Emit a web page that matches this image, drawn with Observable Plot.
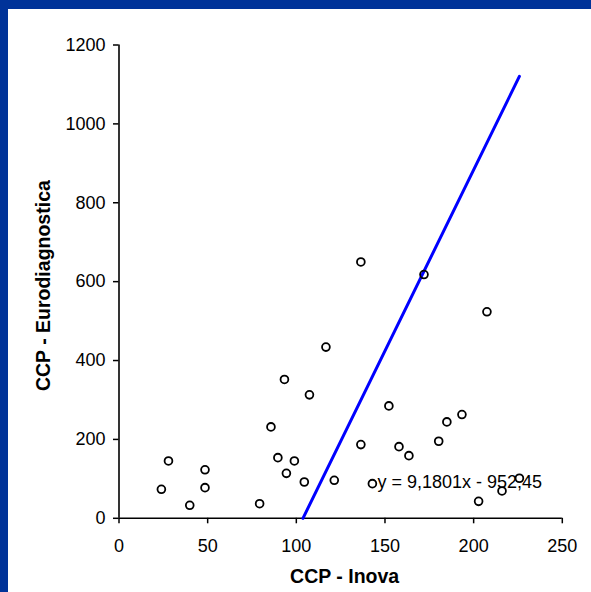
<!DOCTYPE html>
<html>
<head>
<meta charset="utf-8">
<script src="https://cdn.jsdelivr.net/npm/d3@7"></script>
<script src="https://cdn.jsdelivr.net/npm/@observablehq/plot@0.6"></script>
<style>
  html, body { margin: 0; padding: 0; background: #ffffff; }
  #wrap { position: relative; width: 591px; height: 592px; overflow: hidden; background: #ffffff; }
  #wrap svg { position: absolute; left: 0; top: 0; }
  .band-top { position: absolute; left: 0; top: 0; width: 591px; height: 9px; background: #003399; }
  .band-left { position: absolute; left: 0; top: 0; width: 8px; height: 592px; background: #003399; }
</style>
</head>
<body>
<div id="wrap"><div class="band-top"></div><div class="band-left"></div></div>
<script>
// Data
const inova = [23.9, 27.9, 39.9, 48.5, 48.5, 79.3, 85.7, 89.6, 93.3, 94.4, 98.9, 104.5, 107.4, 116.7, 121.4,
               136.4, 136.4, 142.9, 152.2, 157.9, 163.5, 172.0, 180.3, 184.9, 193.4, 207.5, 202.8, 216.0, 225.8];
const euro  = [73.6, 145.4, 33, 123, 77.7, 37, 231.7, 153.8, 352, 114, 145.4, 92, 313, 434, 96.4,
               650, 186.8, 87.8, 285, 181.7, 158.9, 618, 195.4, 244.4, 263, 523.6, 43, 69.3, 101.5];
const slope = 9.1801;
const intercept = -952.45;
const equationLabel = "y = 9,1801x - 952,45";
const xTicks = [0, 50, 100, 150, 200, 250];
const yTicks = [0, 200, 400, 600, 800, 1000, 1200];
const xTitle = "CCP - Inova";
const yTitle = "CCP - Eurodiagnostica";

const points = inova.map((x, i) => ({x, y: euro[i]}));
const xStart = -intercept / slope;
const xEnd = d3.max(inova);
const trend = [xStart, xEnd].map(x => ({x, y: slope * x + intercept}));
const labelPoint = [points[17]];

const font = "'Liberation Sans', Arial, Helvetica, sans-serif";

const chart = Plot.plot({
  width: 591,
  height: 592,
  marginLeft: 118.5,
  marginRight: 29.2,
  marginTop: 44.5,
  marginBottom: 74.2,
  style: {fontFamily: font, fontSize: "18px", color: "#000", background: "transparent"},
  x: {domain: [0, 250]},
  y: {domain: [0, 1200]},
  marks: [
    Plot.axisX({ticks: xTicks, tickFormat: d => String(d), tickSize: 5.5, tickPadding: 15, fontSize: 18, label: null, strokeWidth: 1.5, stroke: "#000"}),
    Plot.axisY({ticks: yTicks, tickFormat: d => String(d), tickSize: 5.5, tickPadding: 8, fontSize: 18, label: null, strokeWidth: 1.5, stroke: "#000"}),
    Plot.ruleX([0], {stroke: "#000", strokeWidth: 1.6}),
    Plot.ruleY([0], {stroke: "#000", strokeWidth: 1.6}),
    Plot.line(trend, {x: "x", y: "y", stroke: "#0000ff", strokeWidth: 3}),
    Plot.dot(points, {x: "x", y: "y", r: 3.9, stroke: "#000", strokeWidth: 1.8, fill: "none"}),
    Plot.text(labelPoint, {x: "x", y: "y", text: () => equationLabel, textAnchor: "start", dx: 5, dy: -1, fontSize: 18, fill: "#000"}),
    Plot.text([xTitle], {frameAnchor: "bottom", text: d => d, textAnchor: "middle", lineAnchor: "middle", dx: 4, dy: 58, fontSize: 19.5, fontWeight: "bold", fill: "#000"}),
    Plot.text([yTitle], {frameAnchor: "left", text: d => d, textAnchor: "middle", lineAnchor: "middle", rotate: -90, dx: -75, dy: 4, fontSize: 19.5, fontWeight: "bold", fill: "#000"})
  ]
});

document.getElementById("wrap").prepend(chart);
</script>
</body>
</html>
